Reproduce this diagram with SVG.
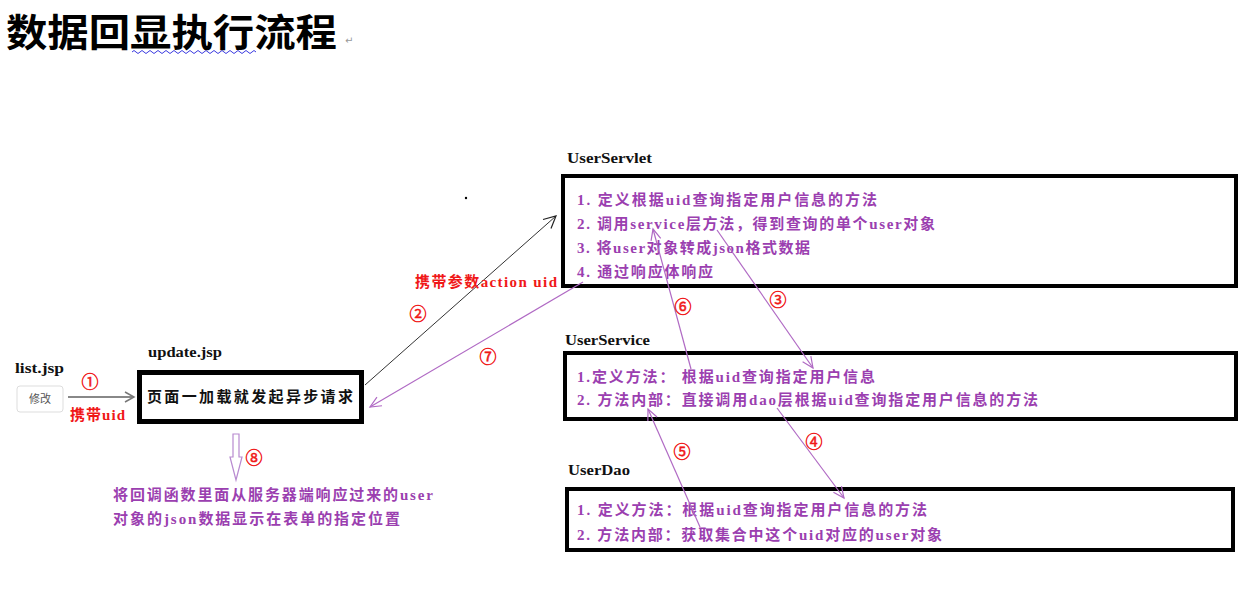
<svg xmlns="http://www.w3.org/2000/svg" width="1247" height="605" viewBox="0 0 1247 605">
<style>
.title{font-family:"Noto Sans CJK SC","Noto Sans",sans-serif;font-weight:bold;font-size:38px;fill:#000}
.lbl{font-family:"Liberation Serif","DejaVu Serif",serif;font-weight:bold;font-size:15px;fill:#111}
.pt{font-family:"Liberation Serif","Noto Sans CJK SC",serif;font-size:15px;fill:#9b3fb0;font-weight:bold}
.red{font-family:"Liberation Serif","Noto Sans CJK SC",serif;font-size:15px;fill:#f01818;font-weight:bold}
.num{font-family:"Noto Sans CJK SC","DejaVu Sans",sans-serif;font-size:17px;fill:#f01818;stroke:#f01818;stroke-width:0.5;text-anchor:middle}
.box{fill:#fff;stroke:#000;stroke-width:4}
.pl{fill:none;stroke:#b06ac4;stroke-width:1.2}
</style>
<defs>
<marker id="ab" markerUnits="userSpaceOnUse" markerWidth="16" markerHeight="16" refX="14" refY="8" orient="auto"><path d="M2,2 L14,8 L2,14" fill="none" stroke="#222" stroke-width="1.2"/></marker>
<marker id="ap" markerUnits="userSpaceOnUse" markerWidth="16" markerHeight="16" refX="14" refY="8" orient="auto"><path d="M3,3 L14,8 L3,13" fill="none" stroke="#b06ac4" stroke-width="1.2"/></marker>
<marker id="ag" markerUnits="userSpaceOnUse" markerWidth="14" markerHeight="14" refX="12" refY="7" orient="auto"><path d="M3,2 L12,7 L3,12" fill="none" stroke="#777" stroke-width="1.5"/></marker>
</defs>

<g id="title">
<text class="title" x="6" y="46" textLength="331" lengthAdjust="spacingAndGlyphs">数据回显执行流程</text>
<path d="M132,52 q2,-3 4,0 t4,0 t4,0 t4,0 t4,0 t4,0 t4,0 t4,0 t4,0 t4,0 t4,0 t4,0 t4,0 t4,0 t4,0 t4,0 t4,0 t4,0 t4,0 t4,0 t4,0 t4,0 t4,0 t4,0 t4,0 t4,0 t4,0 t4,0 t4,0 t4,0 t4,0" fill="none" stroke="#3a3ae0" stroke-width="1"/>
<text x="345" y="44" font-family="DejaVu Sans,sans-serif" font-size="10" fill="#999">↵</text>
</g>

<g id="list">
<text class="lbl" x="15" y="373" textLength="49" lengthAdjust="spacingAndGlyphs">list.jsp</text>
<rect x="17" y="386" width="46" height="26" rx="3" fill="#fff" stroke="#ddd" stroke-width="1"/>
<text x="40" y="403" font-family="Noto Sans CJK SC,sans-serif" font-size="11" fill="#555" text-anchor="middle">修改</text>
</g>

<g id="update">
<text class="lbl" x="148" y="357" textLength="74" lengthAdjust="spacingAndGlyphs">update.jsp</text>
<rect x="139.5" y="372.5" width="222" height="49" fill="#fff" stroke="#000" stroke-width="5"/>
<text x="147" y="402" font-family="Liberation Serif,Noto Sans CJK SC,serif" font-size="15" font-weight="bold" fill="#111" textLength="206" lengthAdjust="spacing">页面一加载就发起异步请求</text>
</g>

<g id="userservlet">
<text class="lbl" x="567" y="163" textLength="85" lengthAdjust="spacingAndGlyphs">UserServlet</text>
<rect class="box" x="563" y="176" width="673" height="110"/>
<text class="pt" x="577" y="205" textLength="300" lengthAdjust="spacing">1. 定义根据uid查询指定用户信息的方法</text>
<text class="pt" x="577" y="229" textLength="358" lengthAdjust="spacing">2. 调用service层方法，得到查询的单个user对象</text>
<text class="pt" x="577" y="253" textLength="233" lengthAdjust="spacing">3. 将user对象转成json格式数据</text>
<text class="pt" x="577" y="277" textLength="136" lengthAdjust="spacing">4. 通过响应体响应</text>
</g>

<g id="userservice">
<text class="lbl" x="565" y="345" textLength="85" lengthAdjust="spacingAndGlyphs">UserService</text>
<rect class="box" x="565" y="353" width="671" height="66"/>
<text class="pt" x="577" y="382" textLength="298" lengthAdjust="spacing">1.定义方法： 根据uid查询指定用户信息</text>
<text class="pt" x="577" y="405" textLength="461" lengthAdjust="spacing">2. 方法内部：直接调用dao层根据uid查询指定用户信息的方法</text>
</g>

<g id="userdao">
<text class="lbl" x="568" y="475" textLength="62" lengthAdjust="spacingAndGlyphs">UserDao</text>
<rect class="box" x="567" y="489" width="666" height="61"/>
<text class="pt" x="577" y="515" textLength="350" lengthAdjust="spacing">1. 定义方法：根据uid查询指定用户信息的方法</text>
<text class="pt" x="577" y="540" textLength="365" lengthAdjust="spacing">2. 方法内部：获取集合中这个uid对应的user对象</text>
</g>

<g id="result">
<text class="pt" x="113" y="500" textLength="320" lengthAdjust="spacing">将回调函数里面从服务器端响应过来的user</text>
<text class="pt" x="113" y="524" textLength="287" lengthAdjust="spacing">对象的json数据显示在表单的指定位置</text>
</g>

<g id="connectors">
<line x1="68" y1="397" x2="134" y2="397" stroke="#888" stroke-width="2" marker-end="url(#ag)"/>
<text class="num" x="90" y="388">①</text>
<text class="red" x="70" y="420" textLength="55" lengthAdjust="spacing">携带uid</text>

<line x1="365" y1="385" x2="556" y2="216" stroke="#333" stroke-width="1" marker-end="url(#ab)"/>
<text class="red" x="415" y="287" textLength="142" lengthAdjust="spacing">携带参数action uid</text>
<text class="num" x="418" y="320">②</text>
<circle cx="466" cy="198" r="1.2" fill="#000"/>

<line x1="583" y1="282" x2="370" y2="407" class="pl" marker-end="url(#ap)"/>
<text class="num" x="488" y="363">⑦</text>

<line x1="691" y1="369" x2="653" y2="229" class="pl" marker-end="url(#ap)"/>
<text class="num" x="683" y="313">⑥</text>

<line x1="717" y1="230" x2="813" y2="368" class="pl" marker-end="url(#ap)"/>
<text class="num" x="778" y="306">③</text>

<line x1="777" y1="408" x2="844" y2="498" class="pl" marker-end="url(#ap)"/>
<text class="num" x="814" y="448">④</text>

<line x1="700" y1="527" x2="648" y2="409" class="pl" marker-end="url(#ap)"/>
<text class="num" x="682" y="458">⑤</text>

<path d="M233,434 L239,434 L239,457 L242,457 L236,480 L230,457 L233,457 Z" fill="#fff" stroke="#b88ad0" stroke-width="1.2"/>
<text class="num" x="254" y="464">⑧</text>
</g>
</svg>
